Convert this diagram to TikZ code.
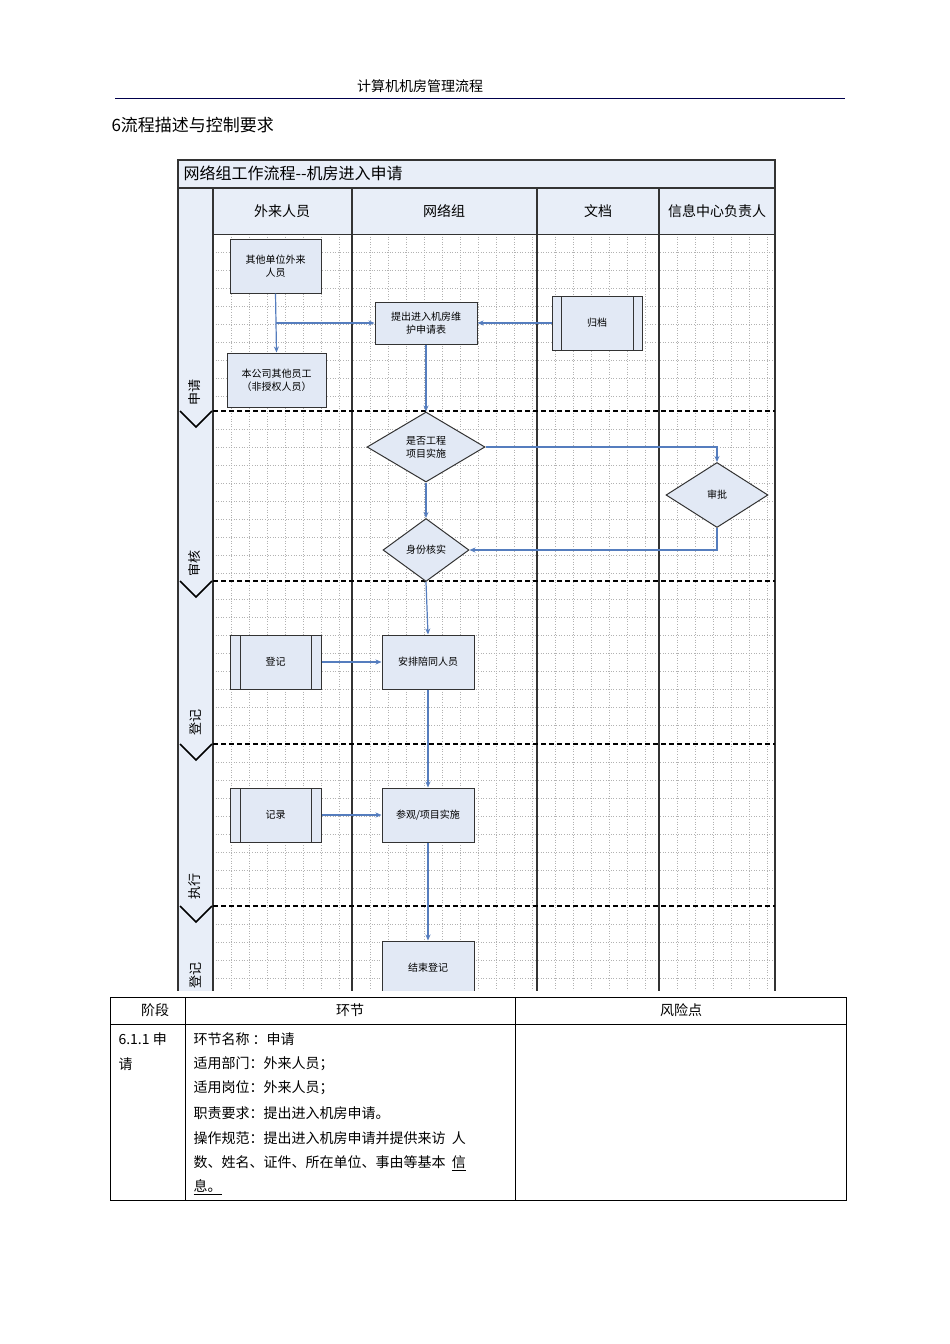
\documentclass[tikz,border=0pt]{standalone}
\usepackage{fontspec}
\setmainfont{Liberation Sans}
\newfontfamily\cjk{Noto Sans CJK SC}
\usetikzlibrary{shapes.geometric,arrows.meta}
\definecolor{lnk}{RGB}{85,125,190}
\definecolor{nfill}{RGB}{226,233,245}
\definecolor{hfill}{RGB}{232,238,248}
\tikzset{
 box/.style={draw=black!80,line width=1pt,fill=nfill,inner sep=1pt,align=center,font=\cjk\fontsize{10}{13}\selectfont},
 sub/.style={box},
 dia/.style={draw=black!80,line width=1pt,fill=nfill,diamond,inner sep=0pt,align=center,font=\cjk\fontsize{10}{13}\selectfont},
 conn/.style={draw=lnk,line width=1.2pt,-{Stealth[length=6pt,width=5pt]}},
 phase/.style={rotate=90,font=\cjk\fontsize{13}{15}\selectfont},
 lane/.style={font=\cjk\fontsize{14}{16}\selectfont},
 tx/.style={anchor=west,font=\cjk\fontsize{14}{16}\selectfont}
}
\begin{document}
\begin{tikzpicture}[x=1pt,y=-1pt]
\useasboundingbox (0,0) rectangle (950,1344);
\fill[white] (0,0) rectangle (950,1344);
% page header
\node[font=\cjk\fontsize{14}{16}\selectfont] (ph) at (420,86) {计算机机房管理流程};
\draw[line width=1pt,black!70!blue] (115,98) -- (845,98);
\node[anchor=west,font=\cjk\fontsize{17}{19}\selectfont] (sec) at (108,125) {6流程描述与控制要求};
% diagram
\begin{scope}
\clip (176,158) rectangle (778,990);
\fill[hfill] (178,160) rectangle (775,234);
\fill[hfill] (178,160) rectangle (213,1000);
\foreach \x in {231,249,267,285,303,321,339,370,388,406,424,442,460,478,496,514,532,555,573,591,609,627,645,677,695,713,731,749,767}
  \draw[black!30,dotted,line width=0.6pt] (\x,234) -- (\x,1000);
\foreach \y in {252,270,288,306,324,342,360,378,396,429,447,465,483,501,519,537,555,573,599,617,635,653,671,689,707,725,762,780,798,816,834,852,870,888,924,942,960,978}
  \draw[black!30,dotted,line width=0.6pt] (213,\y) -- (775,\y);
\draw[line width=1.2pt,black!80] (178,160) rectangle (775,1000);
\draw[line width=1.2pt,black!80] (178,188) -- (775,188);
\draw[line width=1pt,black!80] (213,234) -- (775,234);
\foreach \x in {213,352,537,659} \draw[line width=1.3pt,black!80] (\x,188) -- (\x,1000);
\node[anchor=west,font=\cjk\fontsize{16}{18}\selectfont] (title) at (180,173) {网络组工作流程--机房进入申请};
\node[lane] (l1) at (282,211) {外来人员};
\node[lane] (l2) at (444,211) {网络组};
\node[lane] (l3) at (598,211) {文档};
\node[lane] (l4) at (717,211) {信息中心负责人};
\foreach \y in {411,581,744,906}{
  \draw[line width=2.5pt,dash pattern=on 5pt off 3pt] (213,\y) -- (775,\y);
  \draw[line width=1.5pt] (180,\y) -- (196,\y+16) -- (212,\y);
}
\node[phase] (p1) at (195,392) {申请};
\node[phase] (p2) at (195,563) {审核};
\node[phase] (p3) at (195,722) {登记};
\node[phase] (p4) at (195,886) {执行};
\node[phase] (p5) at (195,975) {登记};
% nodes
\node[box,minimum width=91pt,minimum height=54pt] (n1) at (275.5,266) {其他单位外来\\人员};
\node[box,minimum width=99pt,minimum height=54pt] (n2) at (276.5,380) {本公司其他员工\\（非授权人员）};
\node[box,minimum width=102pt,minimum height=42pt] (n3) at (426,323) {提出进入机房维\\护申请表};
\node[box,minimum width=90pt,minimum height=54pt] (n4) at (597,323) {归档};
\draw[black!80,line width=1pt] (561,296) -- (561,350) (633,296) -- (633,350);
\node[dia,minimum width=118pt,minimum height=70pt] (d1) at (426,447) {是否工程\\项目实施};
\node[dia,minimum width=102pt,minimum height=65pt] (d2) at (717,495) {审批};
\node[dia,minimum width=86pt,minimum height=63pt] (d3) at (426,550) {身份核实};
\node[box,minimum width=91pt,minimum height=54pt] (n5) at (275.5,662) {登记};
\draw[black!80,line width=1pt] (240,635) -- (240,689) (311,635) -- (311,689);
\node[box,minimum width=92pt,minimum height=54pt] (n6) at (428,662) {安排陪同人员};
\node[box,minimum width=91pt,minimum height=54pt] (n7) at (275.5,815) {记录};
\draw[black!80,line width=1pt] (240,788) -- (240,842) (311,788) -- (311,842);
\node[box,minimum width=92pt,minimum height=54pt] (n8) at (428,815) {参观/项目实施};
\node[box,minimum width=92pt,minimum height=54pt] (n9) at (428,968) {结束登记};
% connectors
\coordinate (j1) at (275.5,323);
\draw[conn] (n1.south) -- (n2.north);
\draw[conn,line width=2pt] (j1) -- (n3.west);
\draw[conn,line width=2pt] (n4.west) -- (n3.east);
\draw[conn] (n3.south) -- (d1.north);
\draw[conn] (d1.east) -| (d2.north);
\draw[conn] (d1.south) -- (d3.north);
\draw[conn] (d2.south) |- (d3.east);
\draw[conn] (d3.south) -- (n6.north);
\draw[conn] (n5.east) -- (n6.west);
\draw[conn] (n6.south) -- (n8.north);
\draw[conn] (n7.east) -- (n8.west);
\draw[conn] (n8.south) -- (n9.north);
\end{scope}
% table
\draw[line width=0.8pt] (110,997) rectangle (846,1200);
\draw[line width=0.8pt] (110,1024) -- (846,1024);
\draw[line width=0.8pt] (185,997) -- (185,1200) (515,997) -- (515,1200);
\node[font=\cjk\fontsize{14}{16}\selectfont] (h1) at (155,1010) {阶段};
\node[font=\cjk\fontsize{14}{16}\selectfont] (h2) at (350,1010) {环节};
\node[font=\cjk\fontsize{14}{16}\selectfont] (h3) at (681,1010) {风险点};
\node[tx] (c1) at (115,1039) {6.1.1 申};
\node[tx] (c2) at (115,1064) {请};
\node[tx] (t1) at (190,1039) {环节名称 ：申请};
\node[tx] (t2) at (190,1064) {适用部门：外来人员；};
\node[tx] (t3) at (190,1088) {适用岗位：外来人员；};
\node[tx] (t4) at (190,1113) {职责要求：提出进入机房申请。};
\node[tx] (t5) at (190,1138) {操作规范：提出进入机房申请并提供来访\ \ 人};
\node[tx] (t6) at (190,1163) {数、姓名、证件、所在单位、事由等基本\ \ \underline{信}};
\node[tx] (t7) at (190,1187) {\underline{息。}};
\end{tikzpicture}
\end{document}
